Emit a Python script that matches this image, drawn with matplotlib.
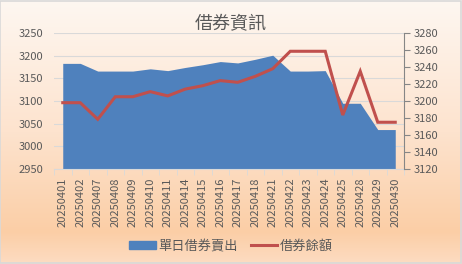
import numpy as np
from matplotlib import pyplot as plt
from matplotlib.colors import LinearSegmentedColormap

plt.rcParams['font.family'] = ['Noto Sans CJK TC', 'DejaVu Sans']

dates = ["20250401", "20250402", "20250407", "20250408", "20250409", "20250410",
         "20250411", "20250414", "20250415", "20250416", "20250417", "20250418",
         "20250421", "20250422", "20250423", "20250424", "20250425", "20250428",
         "20250429", "20250430"]
daily_sell = [3183, 3183, 3166, 3166, 3166, 3171, 3167, 3174, 3180, 3187,
              3184, 3192, 3201, 3166, 3166, 3167, 3095, 3095, 3037, 3037]
balance = [3198, 3198, 3178.5, 3205, 3205, 3211, 3206, 3214, 3218, 3224,
           3222, 3229, 3238, 3258.5, 3258.5, 3258.5, 3183.5, 3235, 3175, 3175]

gray = "#595959"
fig = plt.figure(figsize=(4.62, 2.64), dpi=100)

# background gradient
bg = fig.add_axes([0, 0, 1, 1], zorder=-10)
cmap = LinearSegmentedColormap.from_list(
    "peach", [(0, "#FEF7F1"), (0.5, "#FDE3CE"), (0.88, "#FBCEA6"), (1, "#FDDCC2")])
bg.imshow(np.linspace(0, 1, 256).reshape(-1, 1), aspect="auto", cmap=cmap,
          extent=[0, 1, 0, 1], origin="upper")
bg.set_xlim(0, 1)
bg.set_ylim(0, 1)
bg.axis("off")
bg.add_patch(plt.Rectangle((0.001, 0.002), 0.997, 0.995, fill=False,
                           edgecolor="#D9D9D9", linewidth=1.2))

ax = fig.add_axes([54 / 462, (264 - 169) / 264, 350 / 462, 136 / 264])
ax.patch.set_alpha(0)
x = np.arange(len(dates))
ax.fill_between(x, 2950, daily_sell, color="#4F81BD", linewidth=0, zorder=2)
ax.set_xlim(-0.5, len(dates) - 0.5)
ax.set_ylim(2950, 3250)
ax.set_yticks(np.arange(2950, 3251, 50))
ax.grid(True, axis="y", color="#D9D9D9", linewidth=0.8, zorder=0)
ax.set_axisbelow(True)
ax.set_xticks(x)
ax.set_xticklabels(dates, rotation=90, fontsize=8, color=gray)
ax.set_xticks(np.arange(-0.5, len(dates), 1), minor=True)
ax.tick_params(axis="x", which="major", length=0, pad=6)
ax.tick_params(axis="x", which="minor", length=4, color="#D9D9D9", direction="out")
ax.tick_params(axis="y", length=0, labelsize=8, labelcolor=gray, pad=8)
for s in ["top", "right", "left"]:
    ax.spines[s].set_visible(False)
ax.spines["bottom"].set_color("#D9D9D9")

ax2 = ax.twinx()
ax2.plot(x, balance, color="#C0504D", linewidth=2.2, zorder=3, solid_joinstyle="miter")
ax2.set_ylim(3120, 3280)
ax2.set_yticks(np.arange(3120, 3281, 20))
ax2.tick_params(axis="y", length=4, color="#868686", labelsize=8, labelcolor=gray, pad=3)
for s in ["top", "left", "bottom"]:
    ax2.spines[s].set_visible(False)
ax2.spines["right"].set_color("#868686")

fig.text(0.5, 0.91, "借券資訊", ha="center", va="center", fontsize=13, color=gray)

handles = [plt.Rectangle((0, 0), 1, 1, color="#4F81BD"),
           plt.Line2D([], [], color="#C0504D", linewidth=2.2)]
fig.legend(handles, ["單日借券賣出", "借券餘額"], loc="center", bbox_to_anchor=(0.5, 0.068),
           ncol=2, frameon=False, fontsize=9.5, labelcolor=gray, handlelength=2.0,
           handleheight=0.6, columnspacing=1.0, handletextpad=0.2)

plt.savefig("out.png", dpi=100)
plt.close()
